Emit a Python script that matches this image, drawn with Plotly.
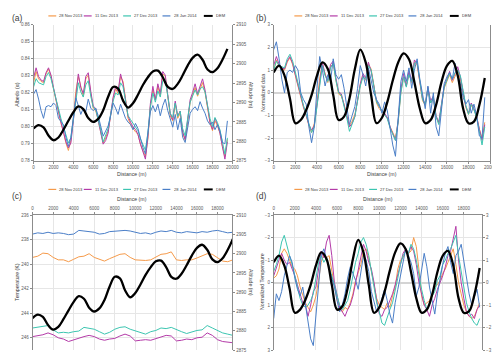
import plotly.graph_objects as go

# distance grids (m)
dist_250 = list(range(0, 19501, 250))
dist_500 = list(range(0, 19501, 500))

series_names = ["28 Nov 2013", "11 Dec 2013", "27 Dec 2013", "28 Jan 2014"]
series_colors = ["#F59A4A", "#B43BA8", "#3CC5B0", "#4A7EC7"]

# (a) albedo
albedo_nov28 = [
    0.826, 0.8325, 0.8282, 0.8267, 0.826, 0.8311, 0.834, 0.8296, 0.8224, 0.8151,
    0.8079, 0.8021, 0.797, 0.7905, 0.7861, 0.7919, 0.805, 0.8209, 0.8296, 0.8238,
    0.818, 0.8282, 0.8304, 0.8195, 0.8108, 0.8093, 0.804, 0.797, 0.7905, 0.7934,
    0.7977, 0.8064, 0.8166, 0.8224, 0.8195, 0.8296, 0.8267, 0.8166, 0.805, 0.8014,
    0.7992, 0.797, 0.7956, 0.7898, 0.7861, 0.7825, 0.7927, 0.8122, 0.8217, 0.8159,
    0.8238, 0.818, 0.8311, 0.8296, 0.818, 0.8064, 0.8035, 0.8137, 0.805, 0.8079,
    0.7963, 0.7919, 0.8028, 0.8144, 0.8188, 0.8231, 0.818, 0.8217, 0.826, 0.8202,
    0.8108, 0.8021, 0.7977, 0.8035, 0.8006, 0.7963, 0.7883, 0.7825, 0.7927]
albedo_dec11 = [
    0.8289, 0.8347, 0.8296, 0.8275, 0.8267, 0.8318, 0.8347, 0.8304, 0.8231, 0.8159,
    0.8086, 0.8028, 0.797, 0.7912, 0.7876, 0.7905, 0.8035, 0.8195, 0.8311, 0.8231,
    0.8195, 0.8296, 0.8318, 0.8209, 0.8122, 0.8108, 0.804, 0.7963, 0.7898, 0.7919,
    0.7963, 0.8072, 0.8173, 0.8238, 0.8209, 0.8311, 0.8253, 0.8159, 0.8064, 0.8028,
    0.7999, 0.7985, 0.7956, 0.7898, 0.7854, 0.781, 0.7941, 0.8137, 0.8238, 0.8159,
    0.8253, 0.8195, 0.8325, 0.8304, 0.8188, 0.8079, 0.804, 0.8151, 0.8064, 0.8093,
    0.797, 0.7927, 0.804, 0.8159, 0.8202, 0.8253, 0.8195, 0.8238, 0.8282, 0.8217,
    0.8122, 0.8028, 0.7985, 0.805, 0.8014, 0.7963, 0.7883, 0.781, 0.7912]
albedo_dec27 = [
    0.8235, 0.8283, 0.8259, 0.8253, 0.8247, 0.8295, 0.8319, 0.8283, 0.8223, 0.8157,
    0.8097, 0.8049, 0.8001, 0.7953, 0.7905, 0.7935, 0.8043, 0.8175, 0.8259, 0.8205,
    0.8175, 0.8247, 0.8271, 0.8181, 0.8115, 0.8103, 0.8049, 0.7983, 0.7911, 0.7947,
    0.7989, 0.8073, 0.8151, 0.8199, 0.8187, 0.8259, 0.8235, 0.8151, 0.8067, 0.8043,
    0.8019, 0.8001, 0.7977, 0.7929, 0.7893, 0.7863, 0.7965, 0.8115, 0.8199, 0.8145,
    0.8211, 0.8175, 0.8271, 0.8277, 0.8181, 0.8079, 0.8055, 0.8139, 0.8061, 0.8091,
    0.7989, 0.7947, 0.8049, 0.8145, 0.8181, 0.8217, 0.8187, 0.8223, 0.8235, 0.8205,
    0.8127, 0.8049, 0.8001, 0.8055, 0.8025, 0.7983, 0.7911, 0.7839, 0.7935]
albedo_jan28 = [
    0.8193, 0.8219, 0.8163, 0.8095, 0.805, 0.8118, 0.8125, 0.8118, 0.814, 0.8125,
    0.805, 0.8028, 0.8013, 0.7938, 0.7885, 0.7938, 0.8065, 0.817, 0.8125, 0.8073,
    0.811, 0.8088, 0.8163, 0.811, 0.8095, 0.811, 0.8065, 0.8005, 0.7945, 0.7975,
    0.8005, 0.8065, 0.814, 0.811, 0.8073, 0.8133, 0.8088, 0.805, 0.8028, 0.8013,
    0.7983, 0.802, 0.799, 0.793, 0.7878, 0.784, 0.796, 0.8088, 0.8125, 0.8088,
    0.8133, 0.8065, 0.8125, 0.8163, 0.8095, 0.805, 0.7998, 0.8073, 0.7983, 0.805,
    0.7938, 0.7908, 0.8005, 0.808, 0.8103, 0.8118, 0.8095, 0.8148, 0.811, 0.808,
    0.8035, 0.8013, 0.8028, 0.7983, 0.8013, 0.7975, 0.7908, 0.79, 0.8035]

# (b) normalized albedo
norm_alb_nov28 = [
    1.0, 1.45, 1.15, 1.05, 1.0, 1.35, 1.55, 1.25, 0.75, 0.25,
    -0.25, -0.65, -1.0, -1.45, -1.75, -1.35, -0.45, 0.65, 1.25, 0.85,
    0.45, 1.15, 1.3, 0.55, -0.05, -0.15, -0.5, -1.0, -1.45, -1.25,
    -0.95, -0.35, 0.35, 0.75, 0.55, 1.25, 1.05, 0.35, -0.45, -0.7,
    -0.85, -1.0, -1.1, -1.5, -1.75, -2.0, -1.3, 0.05, 0.7, 0.3,
    0.85, 0.45, 1.35, 1.25, 0.45, -0.35, -0.55, 0.15, -0.45, -0.25,
    -1.05, -1.35, -0.6, 0.2, 0.5, 0.8, 0.45, 0.7, 1.0, 0.6,
    -0.05, -0.65, -0.95, -0.55, -0.75, -1.05, -1.6, -2.0, -1.3]
norm_alb_dec11 = [
    1.2, 1.6, 1.25, 1.1, 1.05, 1.4, 1.6, 1.3, 0.8, 0.3,
    -0.2, -0.6, -1.0, -1.4, -1.65, -1.45, -0.55, 0.55, 1.35, 0.8,
    0.55, 1.25, 1.4, 0.65, 0.05, -0.05, -0.5, -1.05, -1.5, -1.35,
    -1.05, -0.3, 0.4, 0.85, 0.65, 1.35, 0.95, 0.3, -0.35, -0.6,
    -0.8, -0.9, -1.1, -1.5, -1.8, -2.1, -1.2, 0.15, 0.85, 0.3,
    0.95, 0.55, 1.45, 1.3, 0.5, -0.25, -0.5, 0.25, -0.35, -0.15,
    -1.0, -1.3, -0.5, 0.3, 0.6, 0.95, 0.55, 0.85, 1.15, 0.7,
    0.05, -0.6, -0.9, -0.45, -0.7, -1.05, -1.6, -2.1, -1.4]
norm_alb_dec27 = [
    1.0, 1.4, 1.2, 1.15, 1.1, 1.5, 1.7, 1.4, 0.9, 0.35,
    -0.15, -0.55, -0.95, -1.35, -1.75, -1.5, -0.6, 0.5, 1.2, 0.75,
    0.5, 1.1, 1.3, 0.55, 0.0, -0.1, -0.55, -1.1, -1.7, -1.4,
    -1.05, -0.35, 0.3, 0.7, 0.6, 1.2, 1.0, 0.3, -0.4, -0.6,
    -0.8, -0.95, -1.15, -1.55, -1.85, -2.1, -1.25, 0.0, 0.7, 0.25,
    0.8, 0.5, 1.3, 1.35, 0.55, -0.3, -0.5, 0.2, -0.45, -0.2,
    -1.05, -1.4, -0.55, 0.25, 0.55, 0.85, 0.6, 0.9, 1.0, 0.75,
    0.1, -0.55, -0.95, -0.5, -0.75, -1.1, -1.7, -2.3, -1.5]
norm_alb_jan28 = [
    1.9, 2.25, 1.5, 0.6, 0.0, 0.9, 1.0, 0.9, 1.2, 1.0,
    0.0, -0.3, -0.5, -1.5, -2.2, -1.5, 0.2, 1.6, 1.0, 0.3,
    0.8, 0.5, 1.5, 0.8, 0.6, 0.8, 0.2, -0.6, -1.4, -1.0,
    -0.6, 0.2, 1.2, 0.8, 0.3, 1.1, 0.5, 0.0, -0.3, -0.5,
    -0.9, -0.4, -0.8, -1.6, -2.3, -2.8, -1.2, 0.5, 1.0, 0.5,
    1.1, 0.2, 1.0, 1.5, 0.6, 0.0, -0.7, 0.3, -0.9, 0.0,
    -1.5, -1.9, -0.6, 0.4, 0.7, 0.9, 0.6, 1.3, 0.8, 0.4,
    -0.2, -0.5, -0.3, -0.9, -0.5, -1.0, -1.9, -2.0, -0.2]

# (c) temperature (K), every 500 m
temp_nov28 = [
    239.45, 239.35, 239.1, 239.15, 239.45, 239.65, 239.65, 239.8, 239.6, 239.4,
    239.35, 239.15, 239.45, 239.6, 239.75, 239.55, 239.4, 239.2, 239.15, 239.45,
    239.65, 239.7, 239.7, 239.65, 239.45, 239.2, 239.15, 239.0, 239.65, 239.7,
    239.65, 239.65, 239.5, 239.3, 239.15, 239.2, 239.45, 239.75, 239.8, 239.65]
temp_dec11 = [
    245.9, 245.85, 245.75, 245.6, 245.75, 246.0, 246.1, 246.3, 246.15, 246.0,
    245.9, 245.8, 245.9, 246.1, 246.2, 246.1, 246.05, 245.85, 245.7, 245.85,
    246.25, 246.2, 246.15, 246.2, 246.05, 245.9, 245.8, 245.85, 246.25, 246.2,
    246.1, 246.15, 246.0, 245.95, 245.6, 245.8, 246.15, 246.3, 246.35, 246.4]
temp_dec27 = [
    245.2, 245.15, 245.1, 245.0, 245.35, 245.6, 245.55, 245.6, 245.5, 245.45,
    245.15, 245.2, 245.3, 245.5, 245.7, 245.55, 245.3, 245.15, 245.1, 245.3,
    245.45, 245.6, 245.7, 245.5, 245.4, 245.2, 245.25, 245.15, 245.35, 245.5,
    245.65, 245.5, 245.4, 245.35, 245.0, 245.2, 245.4, 245.6, 245.7, 245.8]
temp_jan28 = [
    237.55, 237.45, 237.5, 237.4, 237.5, 237.45, 237.5, 237.6, 237.55, 237.25,
    237.3, 237.35, 237.4, 237.55, 237.5, 237.35, 237.3, 237.3, 237.25, 237.3,
    237.4, 237.5, 237.45, 237.55, 237.4, 237.3, 237.35, 237.25, 237.4, 237.45,
    237.35, 237.4, 237.45, 237.35, 237.4, 237.3, 237.25, 237.35, 237.45, 237.4]

# (d) normalized temperature
norm_t_nov28 = [
    -0.2, -0.3, -0.6, -1.3, -1.5, -1.3, -1.0, -0.7, -0.6, -0.3,
    0.2, 0.6, 0.9, 1.1, 1.3, 1.0, 0.6, -0.1, -0.9, -1.3,
    -1.1, -1.2, -0.5, 0.3, 0.8, 1.1, 1.3, 1.1, 1.2, 0.9,
    0.5, -0.1, -0.5, -0.8, -1.4, -1.5, -1.1, -0.5, 0.2, 0.7,
    1.0, 1.1, 1.2, 0.9, 1.1, 0.6, 0.2, -0.6, -1.0, -1.1,
    -1.5, -1.3, -1.4, -2.0, -1.6, -0.6, 0.6, 1.0, 0.9, 0.8,
    0.5, 0.2, 0.1, -0.1, -0.4, -0.6, -0.9, -1.2, -1.5, -0.8,
    0.0, 0.5, 1.0, 1.3, 1.5, 1.6, 1.5, 1.2, 0.9]
norm_t_dec11 = [
    -0.3, -0.7, -1.0, -1.3, -1.0, -0.8, -0.9, -0.6, -0.3, 0.1,
    0.5, 0.9, 1.0, 1.5, 1.0, 0.4, 0.2, -0.6, -1.4, -1.1,
    -1.8, -2.1, -1.2, 0.0, 0.6, 1.1, 1.3, 1.5, 1.2, 1.0,
    0.6, 0.0, -0.5, -1.2, -1.7, -1.4, -0.9, -0.6, 0.0, 0.8,
    1.4, 1.5, 1.2, 1.1, 0.8, 0.5, 0.1, -0.3, -0.8, -1.3,
    -1.5, -1.3, -1.6, -1.4, -0.8, 0.0, 0.5, 1.0, 1.2, 1.5,
    1.0, 0.7, 0.3, 0.0, -0.3, -0.7, -1.2, -1.4, -2.0, -2.5,
    -1.0, 0.0, 0.7, 1.3, 1.5, 1.4, 1.6, 1.2, 1.0]
norm_t_dec27 = [
    -0.5, -0.8, -1.2, -1.8, -2.1, -1.6, -1.2, -0.8, -0.3, 0.3,
    0.7, 1.0, 1.1, 1.0, 0.8, 0.5, -0.2, -0.9, -1.2, -0.9,
    -1.1, -0.7, -0.4, 0.1, 0.6, 1.0, 1.2, 1.0, 0.8, 0.3,
    -0.3, -0.9, -1.3, -1.8, -2.0, -1.7, -1.2, -0.5, 0.3, 0.9,
    1.3, 1.8, 1.9, 1.5, 1.2, 0.9, 0.4, -0.2, -0.8, -1.2,
    -1.4, -1.3, -1.7, -1.5, -1.0, -0.3, 0.3, 0.8, 1.2, 1.0,
    0.6, 0.4, -0.1, -0.3, -0.8, -1.0, -1.3, -1.5, -1.8, -2.1,
    -1.2, -0.5, 0.2, 0.9, 1.3, 1.6, 1.8, 1.9, 1.6]
norm_t_jan28 = [
    1.6, 0.5, 0.8, 0.4, -0.3, -0.8, -1.2, -0.9, -0.2, 0.3,
    0.6, 0.2, 0.9, 1.6, 2.5, 2.8, 1.5, 0.0, -1.2, -1.5,
    -1.0, -0.6, -0.2, 0.2, 0.8, 1.3, 1.0, 0.5, -0.2, -0.7,
    -0.4, -0.1, 0.3, -0.5, -1.2, -1.0, -0.5, 0.4, 0.8, 1.3,
    1.1, 0.7, 0.3, 0.8, 1.4, 1.8, 0.9, 0.3, -0.3, -0.9,
    -1.5, -1.2, -0.9, -0.4, 0.6, 0.2, -0.6, -1.3, -0.7, 0.2,
    0.8, 1.4, 0.5, -0.2, -0.8, -1.3, -1.6, -0.9, -0.4, -1.2,
    -1.4, -1.7, -1.0, -0.2, 0.5, 1.0, 0.6, 0.3, 1.1]

# DEM, every 500 m
dem_alt = [
    2883.3, 2884.2, 2883.6, 2881.5, 2880.3, 2881.0, 2883.0, 2885.3, 2887.5, 2889.0,
    2888.3, 2886.0, 2885.0, 2885.8, 2888.0, 2891.5, 2894.0, 2893.6, 2890.5, 2888.7,
    2889.8, 2892.0, 2894.5, 2896.5, 2898.0, 2898.2, 2896.5, 2894.0, 2893.5, 2894.8,
    2897.0, 2899.5, 2901.5, 2902.3, 2901.0, 2898.5, 2897.8, 2898.8, 2901.0, 2903.8]
dem_norm = [
    0.9, 1.2, 0.76, -0.25, -1.34, -1.2, -0.76, -0.1, 0.76, 1.34,
    1.05, -0.1, -1.2, -1.05, -0.25, 1.05, 1.9, 1.34, -0.1, -1.34,
    -1.1, -0.4, 0.54, 1.34, 1.74, 1.48, 0.47, -0.69, -1.34, -1.2,
    -0.54, 0.47, 1.19, 1.41, 0.76, -0.69, -1.34, -1.27, -0.54, 0.65]

FONT = "Liberation Sans, Arial, sans-serif"
TXT = "#404040"
GRID = "#E6E6E6"
AXL = "#8C8C8C"
W, H = 500, 352


def px(x):
    return x / W


def py(y):
    return 1 - y / H


fig = go.Figure()

panels = [
    # xaxis, yaxis for the dates, yaxis for DEM, date series, DEM series
    ("x", "y", "y2", [albedo_nov28, albedo_dec11, albedo_dec27, albedo_jan28], dem_alt),
    ("x2", "y3", "y3", [norm_alb_nov28, norm_alb_dec11, norm_alb_dec27, norm_alb_jan28], dem_norm),
    ("x3", "y4", "y5", [temp_nov28, temp_dec11, temp_dec27, temp_jan28], dem_alt),
    ("x4", "y6", "y7", [norm_t_nov28, norm_t_dec11, norm_t_dec27, norm_t_jan28], dem_norm),
]

for xa, ya, yd, data, dem in panels:
    for vals, name, col in zip(data, series_names, series_colors):
        xs = dist_250 if len(vals) == len(dist_250) else dist_500
        fig.add_trace(go.Scatter(x=xs, y=vals, name=name, mode="lines",
                                 line=dict(color=col, width=1),
                                 xaxis=xa, yaxis=ya, showlegend=False))
    fig.add_trace(go.Scatter(x=dist_500, y=dem, name="DEM", mode="lines",
                             line=dict(color="black", width=2.3, shape="spline", smoothing=1),
                             xaxis=xa, yaxis=yd, showlegend=False))

tickf = dict(size=4.5, color="#595959", family=FONT)
ax_common = dict(showline=True, linecolor=AXL, linewidth=0.8, ticks="outside",
                 ticklen=2, tickcolor=AXL, tickfont=tickf)
grid_on = dict(showgrid=True, gridcolor=GRID, gridwidth=0.6)
zero_off = dict(zeroline=False)
zero_on = dict(zeroline=True, zerolinecolor="#D4D4D4", zerolinewidth=1.6)

top_y = [py(153), py(15)]
bot_y = [py(345), py(208)]

fig.update_layout(
    width=W, height=H, margin=dict(l=0, r=0, t=0, b=0),
    paper_bgcolor="white", plot_bgcolor="white", showlegend=False,
    font=dict(family=FONT, size=5, color=TXT),
    # (a)
    xaxis=dict(domain=[px(25), px(227)], anchor="y", range=[0, 20000], dtick=2000,
               tickformat="d", **ax_common, **grid_on, **zero_off),
    yaxis=dict(domain=top_y, anchor="x", range=[0.78, 0.86], dtick=0.01,
               tickformat=".2f", **ax_common, **grid_on, **zero_off),
    yaxis2=dict(overlaying="y", side="right", anchor="x", range=[2875, 2910], dtick=5,
                showgrid=False, **ax_common, **zero_off),
    # (b)
    xaxis2=dict(domain=[px(269), px(489)], anchor="y3", range=[0, 20000], dtick=2000,
                tickformat="d", **ax_common, **grid_on, **zero_off),
    yaxis3=dict(domain=top_y, anchor="x2", range=[-3, 3], dtick=1, mirror=True,
                **ax_common, **grid_on, **zero_on),
    # (c)
    xaxis3=dict(domain=[px(24), px(227)], anchor="y4", side="top", range=[0, 19450],
                dtick=2000, tickformat="d", **ax_common, **grid_on, **zero_off),
    yaxis4=dict(domain=bot_y, anchor="x3", range=[247, 236], tick0=236, dtick=2,
                **ax_common, **grid_on, **zero_off),
    yaxis5=dict(overlaying="y4", side="right", anchor="x3", range=[2875, 2910], dtick=5,
                showgrid=False, **ax_common, **zero_off),
    # (d)
    xaxis4=dict(domain=[px(269), px(481)], anchor="y6", side="top", range=[0, 19750],
                dtick=2000, tickformat="d", **ax_common, **grid_on, **zero_off),
    yaxis6=dict(domain=bot_y, anchor="x4", range=[3, -3], dtick=1,
                **ax_common, **grid_on, **zero_on),
    yaxis7=dict(overlaying="y6", side="right", anchor="x4", range=[-3, 3], dtick=1,
                showgrid=False, **ax_common, **zero_off),
)

annotations = []
shapes = []


def text(x, y, s, size=5.2, angle=0, anchor="center"):
    annotations.append(dict(x=px(x), y=py(y), xref="paper", yref="paper", text=s,
                            showarrow=False, textangle=angle, xanchor=anchor,
                            yanchor="middle", font=dict(size=size, color=TXT, family=FONT)))


# panel letters
for lab, x, y in [("(a)", 9, 8), ("(b)", 257, 8), ("(c)", 8, 189), ("(d)", 257, 189)]:
    text(x, y, lab, size=8.5)

# axis titles
text(125, 166, "Distance (m)")
text(379, 166, "Distance (m)")
text(125, 192, "Distance (m)")
text(375, 192, "Distance (m)")
text(8, 86, "Albedo (α)", angle=-90)
text(246, 86, "Altitude (m)", angle=90)
text(258, 84, "Normalized data", angle=-90)
text(8, 276, "Temperature (K)", angle=-90)
text(246, 276, "Altitude (m)", angle=90)
text(257, 275, "Normalized Temperature", angle=-90)
text(494, 275, "Normalized Altitude", angle=90)

# legends drawn by hand (one per panel)
leg_x = [40, 76, 116, 156, 198]
leg_names = series_names + ["DEM"]
leg_cols = series_colors + ["black"]
for dx, dy in [(0, 6), (250, 6), (0, 182), (250, 182)]:
    for lx, nm, col in zip(leg_x, leg_names, leg_cols):
        ln = 9 if nm == "DEM" else 8
        shapes.append(dict(type="line", xref="paper", yref="paper",
                           x0=px(dx + lx), x1=px(dx + lx + ln), y0=py(dy), y1=py(dy),
                           line=dict(color=col, width=2 if nm == "DEM" else 1.2)))
        text(dx + lx + ln + 1.2, dy, nm, size=4.1, anchor="left")

fig.update_layout(annotations=annotations, shapes=shapes)

fig.write_html("out.html")
